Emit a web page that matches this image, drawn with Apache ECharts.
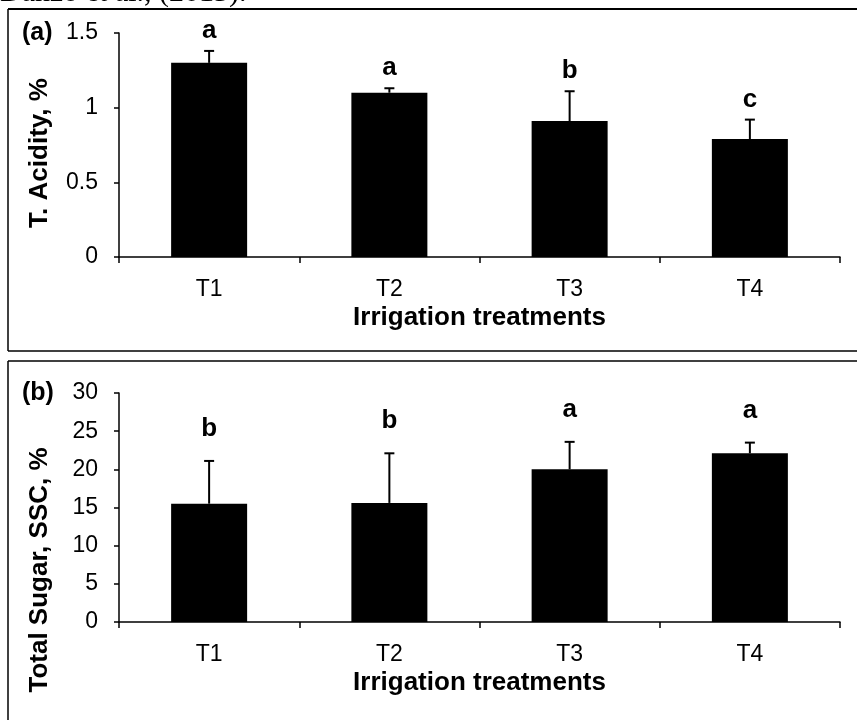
<!DOCTYPE html>
<html>
<head>
<meta charset="utf-8">
<script src="https://cdn.jsdelivr.net/npm/echarts@6/dist/echarts.min.js"></script>
<style>
html,body{margin:0;padding:0;background:#fff;}
#c{width:857px;height:720px;}
</style>
</head>
<body>
<div id="c"></div>
<script>
const categories = ['T1', 'T2', 'T3', 'T4'];
const acidity = [1.3, 1.1, 0.91, 0.79];
const acidityErr = [0.08, 0.03, 0.2, 0.13];
const acidityLetters = ['a', 'a', 'b', 'c'];
const sugar = [15.5, 15.6, 20.0, 22.1];
const sugarErr = [5.6, 6.5, 3.6, 1.4];
const sugarLetters = ['b', 'b', 'a', 'a'];
const acidityAxis = { min: 0, max: 1.5, interval: 0.5 };
const sugarAxis = { min: 0, max: 30, interval: 5 };
const xTitle = 'Irrigation treatments';
const acidityTitle = 'T. Acidity, %';
const sugarTitle = 'Total Sugar, SSC, %';
const caption = 'Danzo et al., (2013).';

const FONT = 'Liberation Sans, Arial, sans-serif';

function errRender(letters, offset) {
  return function (params, api) {
    const i = params.dataIndex;
    const x = api.value(0), v = api.value(1), e = api.value(2);
    const p0 = api.coord([x, v]);
    const p1 = api.coord([x, v + e]);
    return {
      type: 'group',
      children: [
        { type: 'line', shape: { x1: p0[0], y1: p0[1], x2: p1[0], y2: p1[1] }, style: { stroke: '#000', lineWidth: 2 } },
        { type: 'line', shape: { x1: p1[0] - 5, y1: p1[1], x2: p1[0] + 5, y2: p1[1] }, style: { stroke: '#000', lineWidth: 2 } },
        { type: 'text', style: { text: letters[i], x: p1[0], y: p1[1] - offset, align: 'center', verticalAlign: 'middle', fontFamily: FONT, fontWeight: 'bold', fontSize: 26, fill: '#000' } }
      ]
    };
  };
}

function xAxisDef(gridIndex) {
  return {
    type: 'category', gridIndex: gridIndex, data: categories,
    axisLine: { lineStyle: { color: '#000', width: 1.5 } },
    axisTick: { show: true, length: 6, interval: 0, lineStyle: { color: '#000', width: 1.5 } },
    axisLabel: { color: '#000', fontFamily: FONT, fontSize: 23, margin: 21 },
    name: xTitle, nameLocation: 'middle', nameGap: 48,
    nameTextStyle: { color: '#000', fontFamily: FONT, fontWeight: 'bold', fontSize: 26 }
  };
}
function yAxisDef(gridIndex, ax) {
  return {
    type: 'value', gridIndex: gridIndex, min: ax.min, max: ax.max, interval: ax.interval,
    splitLine: { show: false },
    axisLine: { show: true, lineStyle: { color: '#000', width: 1.5 } },
    axisTick: { show: true, length: 5, lineStyle: { color: '#000', width: 1.5 } },
    axisLabel: { color: '#000', fontFamily: FONT, fontSize: 23, margin: 21 }
  };
}

const chart = echarts.init(document.getElementById('c'), null, { renderer: 'canvas' });
chart.setOption({
  backgroundColor: '#fff',
  animation: false,
  grid: [
    { left: 119, right: 17, top: 33, height: 224 },
    { left: 119, right: 17, top: 393, height: 229 }
  ],
  xAxis: [xAxisDef(0), xAxisDef(1)],
  yAxis: [yAxisDef(0, acidityAxis), yAxisDef(1, sugarAxis)],
  series: [
    { type: 'bar', xAxisIndex: 0, yAxisIndex: 0, data: acidity, barWidth: 76, itemStyle: { color: '#000' } },
    { type: 'custom', xAxisIndex: 0, yAxisIndex: 0, renderItem: errRender(acidityLetters, 20),
      data: categories.map((c, i) => [i, acidity[i], acidityErr[i]]), z: 5 },
    { type: 'bar', xAxisIndex: 1, yAxisIndex: 1, data: sugar, barWidth: 76, itemStyle: { color: '#000' } },
    { type: 'custom', xAxisIndex: 1, yAxisIndex: 1, renderItem: errRender(sugarLetters, 32),
      data: categories.map((c, i) => [i, sugar[i], sugarErr[i]]), z: 5 }
  ],
  graphic: [
    { type: 'text', left: 0, top: -22, style: { text: caption, fontFamily: 'Liberation Serif, serif', fontSize: 30, fill: '#000' } },
    { type: 'line', shape: { x1: 8, y1: 9, x2: 857, y2: 9 }, style: { stroke: '#000', lineWidth: 2 } },
    { type: 'line', shape: { x1: 8, y1: 9, x2: 8, y2: 351 }, style: { stroke: '#000', lineWidth: 1.5 } },
    { type: 'line', shape: { x1: 8, y1: 351, x2: 857, y2: 351 }, style: { stroke: '#000', lineWidth: 1.5 } },
    { type: 'line', shape: { x1: 8, y1: 361, x2: 857, y2: 361 }, style: { stroke: '#000', lineWidth: 1.5 } },
    { type: 'line', shape: { x1: 8, y1: 361, x2: 8, y2: 720 }, style: { stroke: '#000', lineWidth: 1.5 } },
    { type: 'text', x: 22, y: 33, style: { text: '(a)', fontFamily: FONT, fontWeight: 'bold', fontSize: 25, fill: '#000', verticalAlign: 'middle' } },
    { type: 'text', x: 22, y: 393, style: { text: '(b)', fontFamily: FONT, fontWeight: 'bold', fontSize: 25, fill: '#000', verticalAlign: 'middle' } },
    { type: 'text', x: 40, y: 153, rotation: Math.PI / 2, style: { text: acidityTitle, fontFamily: FONT, fontWeight: 'bold', fontSize: 26, fill: '#000', align: 'center', verticalAlign: 'middle' } },
    { type: 'text', x: 40, y: 570, rotation: Math.PI / 2, style: { text: sugarTitle, fontFamily: FONT, fontWeight: 'bold', fontSize: 26, fill: '#000', align: 'center', verticalAlign: 'middle' } }
  ]
});
</script>
</body>
</html>
